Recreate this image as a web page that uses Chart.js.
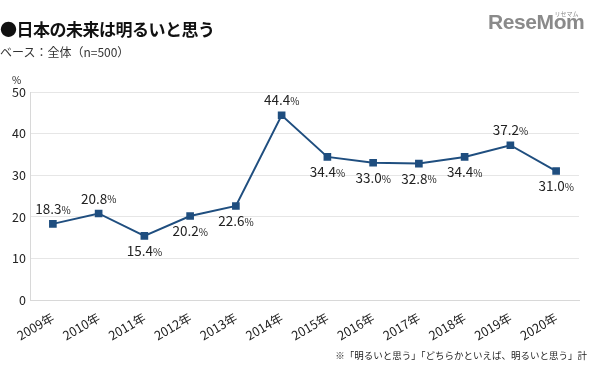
<!DOCTYPE html>
<html>
<head>
<meta charset="utf-8">
<script src="https://cdn.jsdelivr.net/npm/chart.js@4"></script>
<style>
  body { margin: 0; background: #fff; font-family: "Noto Sans CJK JP", sans-serif; }
  #wrap { position: relative; width: 599px; height: 381px; overflow: hidden; }
  #chart { position: absolute; left: 0; top: 0; }
  .title { position: absolute; left: 0; top: 16px; font-size: 17px; font-weight: bold; color: #111; letter-spacing: -0.5px; }
  .sub { position: absolute; left: 0; top: 43px; font-size: 12px; color: #333; }
  .logo { position: absolute; left: 488px; top: 10px; font-family: "Liberation Sans", sans-serif; font-size: 21px; font-weight: bold; color: #8a8a8a; letter-spacing: -0.4px; }
  .logo small { position: absolute; right: 6px; top: -1px; font-size: 6px; font-family: "Noto Sans CJK JP"; letter-spacing: 0; font-weight: normal; }
  .note { position: absolute; right: 12px; top: 348px; font-size: 9.5px; color: #222; }
  .pct { position: absolute; left: 12px; top: 72px; font-size: 10px; color: #222; }
</style>
</head>
<body>
<div id="wrap">
  <canvas id="chart" width="599" height="381"></canvas>
  <div class="title">●日本の未来は明るいと思う</div>
  <div class="sub">ベース：全体（n=500）</div>
  <div class="logo">ReseMom<small>リセマム</small></div>
  <div class="pct">%</div>
  <div class="note">※「明るいと思う」「どちらかといえば、明るいと思う」計</div>
</div>
<script>
const years = ['2009年', '2010年', '2011年', '2012年', '2013年', '2014年', '2015年', '2016年', '2017年', '2018年', '2019年', '2020年'];
const values = [18.3, 20.8, 15.4, 20.2, 22.6, 44.4, 34.4, 33.0, 32.8, 34.4, 37.2, 31.0];
// label above (1) or below (-1) the point
const labelSide = [1, 1, -1, -1, -1, 1, -1, -1, -1, -1, 1, -1];
const yTicks = [0, 10, 20, 30, 40, 50];

const lineColor = '#1f4e7f';
const fontFamily = '"Noto Sans CJK JP", sans-serif';

// draws "18.3%" labels with a smaller percent sign
const valueLabels = {
    id: 'valueLabels',
    afterDatasetsDraw(chart) {
        const ctx = chart.ctx;
        const meta = chart.getDatasetMeta(0);
        ctx.save();
        ctx.fillStyle = '#222';
        ctx.textBaseline = 'middle';
        meta.data.forEach((pt, i) => {
            const num = values[i].toFixed(1);
            ctx.font = '13.5px ' + fontFamily;
            const w1 = ctx.measureText(num).width;
            ctx.font = '10px ' + fontFamily;
            const w2 = ctx.measureText('%').width;
            let x = pt.x - (w1 + w2) / 2;
            const y = pt.y - labelSide[i] * 15;
            ctx.textAlign = 'left';
            ctx.font = '13.5px ' + fontFamily;
            ctx.fillText(num, x, y);
            ctx.font = '10px ' + fontFamily;
            ctx.fillText('%', x + w1, y + 1);
        });
        ctx.restore();
    }
};

new Chart(document.getElementById('chart'), {
    type: 'line',
    data: {
        labels: years,
        datasets: [{
            data: values,
            borderColor: lineColor,
            backgroundColor: lineColor,
            borderWidth: 2,
            pointStyle: 'rect',
            pointRadius: 4,
            tension: 0
        }]
    },
    options: {
        responsive: false,
        animation: false,
        layout: { padding: { top: 92, right: 20, bottom: 28, left: 0 } },
        plugins: { legend: { display: false }, tooltip: { enabled: false } },
        scales: {
            x: {
                offset: true,
                grid: { display: false },
                border: { color: '#d8d8d8' },
                ticks: {
                    color: '#222',
                    font: { family: fontFamily, size: 12.5 },
                    minRotation: 30,
                    maxRotation: 30,
                    padding: 2
                },
                afterFit(scale) { scale.height = 53; }
            },
            y: {
                min: 0,
                max: 50,
                afterBuildTicks(scale) { scale.ticks = yTicks.map(v => ({ value: v })); },
                grid: { color: '#e6e6e6', drawTicks: false },
                border: { color: '#d8d8d8' },
                ticks: {
                    color: '#222',
                    font: { family: fontFamily, size: 12.5 },
                    padding: 4
                },
                afterFit(scale) { scale.width = 30; }
            }
        }
    },
    plugins: [valueLabels]
});
</script>
</body>
</html>
